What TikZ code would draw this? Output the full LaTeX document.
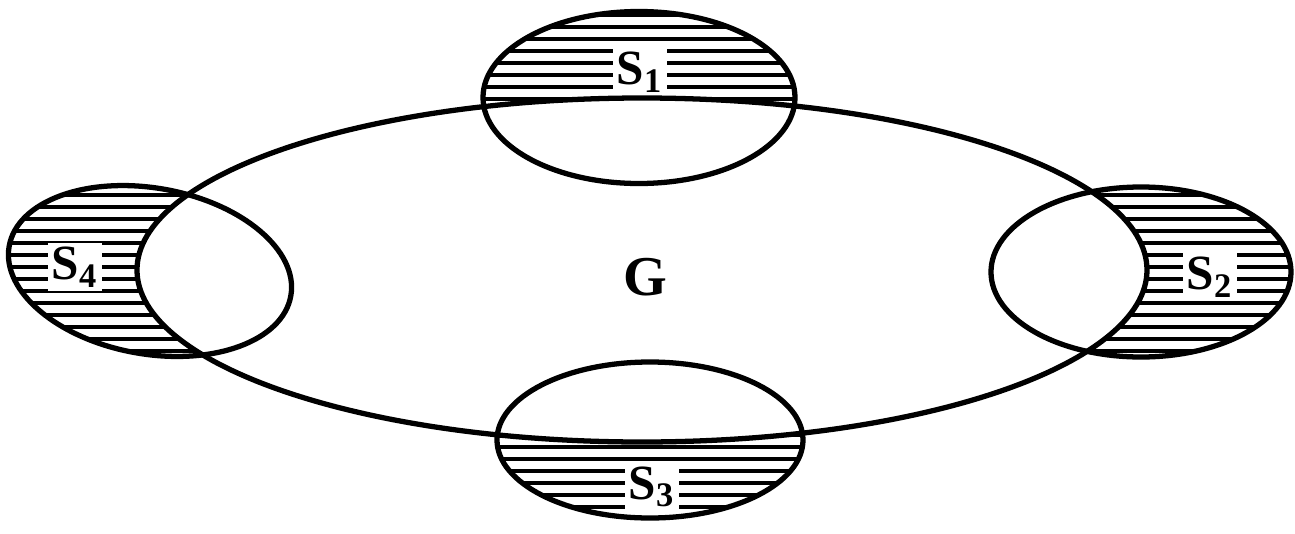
\documentclass[tikz,border=0pt]{standalone}
\usepackage{fontspec}
\setmainfont{Liberation Serif}
\usepackage{tikz}
\usetikzlibrary{positioning}

\begin{document}
\begin{tikzpicture}[
    setline/.style={draw=black, line width=1.5pt},
    hatch/.style={draw=black, line width=1.1pt},
    setlabel/.style={fill=white, inner sep=1pt, font=\fontsize{14}{16}\selectfont\bfseries},
    biglabel/.style={inner sep=1pt, font=\fontsize{16}{18}\selectfont\bfseries}
]
    \useasboundingbox (0,0) rectangle (12.95,5.33);

    % hatched parts of the subsets outside G
    \foreach \cx/\cy/\rx/\ry/\rot in {6.39/4.355/1.56/0.86/0, 11.41/2.61/1.50/0.85/0,
                                     6.50/0.93/1.53/0.78/0, 1.50/2.62/1.43/0.83/-10} {
        \begin{scope}
            \clip (\cx,\cy) ellipse [x radius=\rx, y radius=\ry, rotate=\rot];
            % clockwise frame minus the (counter-clockwise) ellipse G
            \clip (-1,-1) -- (-1,7) -- (14,7) -- (14,-1) -- cycle
                (6.42,2.63) ellipse [x radius=5.05, y radius=1.72];
            \foreach \y in {0.02,0.14,...,5.33}
                \draw[hatch] (0,\y) -- (12.95,\y);
        \end{scope}
    }

    \node[setlabel] (s1) at (6.40,4.61) {S\textsubscript{1}};
    \node[setlabel] (s2) at (12.10,2.56) {S\textsubscript{2}};
    \node[setlabel] (s3) at (6.52,0.46) {S\textsubscript{3}};
    \node[setlabel] (s4) at (0.75,2.66) {S\textsubscript{4}};
    \node[biglabel] (g) at (6.45,2.56) {G};

    % outlines
    \draw[setline] (6.42,2.63) ellipse [x radius=5.05, y radius=1.72];
    \draw[setline] (6.39,4.355) ellipse [x radius=1.56, y radius=0.86];
    \draw[setline] (11.41,2.61) ellipse [x radius=1.50, y radius=0.85];
    \draw[setline] (6.50,0.93) ellipse [x radius=1.53, y radius=0.78];
    \draw[setline] (1.50,2.62) ellipse [x radius=1.43, y radius=0.83, rotate=-10];
\end{tikzpicture}
\end{document}
